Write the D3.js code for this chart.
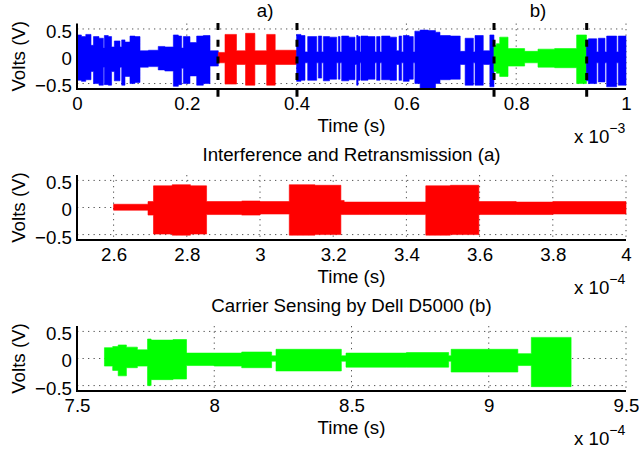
<!DOCTYPE html>
<html><head><meta charset="utf-8">
<script src="https://cdn.jsdelivr.net/npm/d3@7"></script>
<style>
body{margin:0;background:#fff}
svg{display:block}
text{font-family:"Liberation Sans",Arial,Helvetica,sans-serif;fill:#000}
</style>
</head><body>
<svg id="c" width="639" height="451"></svg>
<script>
// ---------- DATA (envelopes: [time, upper V, lower V], step segments) ----------
// Top panel, time in units of 1e-3 s
const topBlue1 = [
  [0.000,0.39,-0.44],[0.008,0.36,-0.46],[0.016,0.40,-0.43],[0.0255,0.20,-0.28],
  [0.030,0.36,-0.50],[0.040,0.33,-0.53],[0.048,0.15,-0.20],[0.0498,0.38,-0.52],
  [0.057,0.36,-0.53],[0.063,0.17,-0.28],[0.068,0.28,-0.45],[0.0783,0.17,-0.20],
  [0.0814,0.30,-0.53],[0.0874,0.26,-0.37],[0.0965,0.37,-0.50],[0.1056,0.36,-0.48],
  [0.1148,0.10,-0.20],[0.130,0.11,-0.19],[0.148,0.18,-0.25],[0.160,0.17,-0.27],
  [0.1755,0.39,-0.55],[0.1846,0.37,-0.52],[0.1906,0.15,-0.22],[0.1937,0.36,-0.50],
  [0.2058,0.25,-0.36],[0.218,0.37,-0.53],[0.2301,0.38,-0.50],[0.2423,0.10,-0.18],
  [0.2574,0.10,-0.18]
];
const topRed = [
  [0.2574,0.07,-0.12],[0.2696,0.40,-0.51],[0.2905,0.10,-0.15],[0.3070,0.42,-0.53],
  [0.3240,0.10,-0.15],[0.3455,0.40,-0.53],[0.3610,0.11,-0.15],[0.4000,0.11,-0.15]
];
const topBlue2 = [
  [0.4000,0.40,-0.46],[0.4080,0.38,-0.44],[0.4153,0.08,-0.12],[0.4202,0.36,-0.44],
  [0.4366,0.08,-0.12],[0.4396,0.37,-0.40],[0.4457,0.08,-0.12],[0.4487,0.36,-0.45],
  [0.4600,0.35,-0.42],[0.4730,0.08,-0.12],[0.4760,0.36,-0.42],[0.4791,0.08,-0.12],
  [0.4821,0.37,-0.45],[0.4950,0.35,-0.43],[0.5064,0.10,-0.15],[0.5094,0.38,-0.53],
  [0.5120,0.36,-0.44],[0.5155,0.08,-0.12],[0.5173,0.37,-0.44],[0.5300,0.36,-0.42],
  [0.5428,0.08,-0.12],[0.5458,0.36,-0.44],[0.5519,0.08,-0.12],[0.5549,0.37,-0.43],
  [0.5700,0.35,-0.44],[0.5820,0.10,-0.15],[0.5865,0.37,-0.44],[0.5913,0.08,-0.12],
  [0.5943,0.38,-0.46],[0.6050,0.36,-0.42],[0.6125,0.08,-0.12],[0.6154,0.46,-0.50],
  [0.6250,0.48,-0.60],[0.6400,0.47,-0.60],[0.6530,0.44,-0.50],[0.6612,0.38,-0.43],
  [0.6800,0.37,-0.42],[0.6980,0.09,-0.15],[0.7070,0.33,-0.53],[0.7220,0.08,-0.12],
  [0.7250,0.38,-0.53],[0.7400,0.10,-0.15],[0.7520,0.39,-0.56],[0.7595,0.39,-0.56]
];
const topGreen = [
  [0.7595,0.20,-0.28],[0.7640,0.23,-0.31],[0.7700,0.35,-0.37],[0.7851,0.14,-0.18],
  [0.8154,0.09,-0.12],[0.8397,0.13,-0.20],[0.8700,0.14,-0.21],[0.9101,0.39,-0.50],
  [0.9280,0.39,-0.50]
];
const topBlue3 = [
  [0.9280,0.30,-0.45],[0.9315,0.32,-0.50],[0.9466,0.08,-0.12],[0.9496,0.33,-0.47],
  [0.9617,0.08,-0.12],[0.9648,0.37,-0.56],[0.9830,0.08,-0.12],[0.9860,0.37,-0.53],
  [1.0000,0.37,-0.53]
];
// Middle panel, time in units of 1e-4 s
const midRed = [
  [2.600,0.06,-0.05],[2.694,0.11,-0.14],[2.709,0.40,-0.49],[2.760,0.42,-0.51],
  [2.810,0.40,-0.49],[2.854,0.11,-0.13],[2.950,0.12,-0.14],[3.000,0.11,-0.12],
  [3.080,0.42,-0.51],[3.150,0.41,-0.50],[3.221,0.13,-0.13],[3.230,0.10,-0.13],
  [3.300,0.10,-0.13],[3.453,0.40,-0.51],[3.520,0.41,-0.50],[3.598,0.11,-0.13],
  [3.700,0.10,-0.13],[3.800,0.11,-0.12],[4.000,0.11,-0.12]
];
// Bottom panel, time in units of 1e-4 s
const botGreen = [
  [7.600,0.20,-0.14],[7.630,0.22,-0.22],[7.650,0.25,-0.32],[7.680,0.21,-0.17],
  [7.720,0.16,-0.14],[7.757,0.36,-0.50],[7.770,0.34,-0.39],[7.850,0.35,-0.38],
  [7.899,0.10,-0.13],[8.000,0.10,-0.14],[8.100,0.12,-0.17],[8.209,0.05,-0.05],
  [8.225,0.17,-0.23],[8.463,0.05,-0.05],[8.480,0.10,-0.16],[8.700,0.11,-0.16],
  [8.854,0.05,-0.05],[8.863,0.17,-0.25],[9.106,0.09,-0.13],[9.155,0.39,-0.52],
  [9.300,0.39,-0.52]
];
const markers = [0.2568, 0.4007, 0.7596, 0.9284];
const markerLabels = [["a)", 0.3426], ["b)", 0.8397]];
const topTicks = [0, 0.2, 0.4, 0.6, 0.8, 1];
const topTickLabels = ["0","0.2","0.4","0.6","0.8","1"];
const midTicks = [2.6, 2.8, 3, 3.2, 3.4, 3.6, 3.8, 4];
const midTickLabels = ["2.6","2.8","3","3.2","3.4","3.6","3.8","4"];
const botTicks = [7.5, 8, 8.5, 9, 9.5];
const botTickLabels = ["7.5","8","8.5","9","9.5"];
const yTicks = [-0.5, 0, 0.5];
const yTickLabels = ["\u22120.5","0","0.5"];
const titles = [null, "Interference and Retransmission (a)", "Carrier Sensing by Dell D5000 (b)"];
const exponents = ["\u22123", "\u22124", "\u22124"];

// ---------- DRAW ----------
const svg = d3.select("#c");
const FS = 18.7;
const L = 77, R = 626;
const panels = [
  {xDomain:[0,1], ticks:topTicks, labels:topTickLabels, top:23.5, bottom:89,
   series:[[topBlue1,"#0000ff"],[topRed,"#ff0000"],[topBlue2,"#0000ff"],[topGreen,"#00ff00"],[topBlue3,"#0000ff"]],
   title:titles[0], exp:exponents[0], markers:true},
  {xDomain:[2.5,4], ticks:midTicks, labels:midTickLabels, top:175, bottom:240,
   series:[[midRed,"#ff0000"]], title:titles[1], exp:exponents[1]},
  {xDomain:[7.5,9.5], ticks:botTicks, labels:botTickLabels, top:326, bottom:391,
   series:[[botGreen,"#00ff00"]], title:titles[2], exp:exponents[2]}
];

panels.forEach(p => {
  const x = d3.scaleLinear().domain(p.xDomain).range([L, R]);
  const y = d3.scaleLinear().domain([-0.6, 0.6]).range([p.bottom, p.top]);
  const g = svg.append("g");

  // grid
  g.selectAll("line.vg").data(p.ticks.filter(t => t !== p.xDomain[0])).join("line")
    .attr("x1", d => x(d)).attr("x2", d => x(d)).attr("y1", p.top).attr("y2", p.bottom)
    .attr("stroke", "#555").attr("stroke-width", 1).attr("stroke-dasharray", "1.3,4.2");
  g.selectAll("line.hg").data(yTicks).join("line")
    .attr("x1", L).attr("x2", R).attr("y1", d => y(d)).attr("y2", d => y(d))
    .attr("stroke", "#555").attr("stroke-width", 1).attr("stroke-dasharray", "1.3,4.2");

  // signal envelopes
  const area = d3.area().x(d => x(d[0])).y0(d => y(d[2])).y1(d => y(d[1])).curve(d3.curveStepAfter);
  p.series.forEach(([data, color]) => {
    g.append("path").attr("d", area(data)).attr("fill", color)
      .attr("stroke", color).attr("stroke-width", 0.6);
  });

  // axes lines
  g.append("line").attr("x1", L).attr("x2", L).attr("y1", p.top).attr("y2", p.bottom + 1)
    .attr("stroke", "#000").attr("stroke-width", 2);
  g.append("line").attr("x1", L - 1).attr("x2", R).attr("y1", p.bottom).attr("y2", p.bottom)
    .attr("stroke", "#000").attr("stroke-width", 2);

  // markers
  if (p.markers) {
    g.selectAll("line.mk").data(markers).join("line")
      .attr("x1", d => x(d)).attr("x2", d => x(d)).attr("y1", 23).attr("y2", 98)
      .attr("stroke", "#000").attr("stroke-width", 3).attr("stroke-dasharray", "7,9.7");
    g.selectAll("text.mkl").data(markerLabels).join("text")
      .attr("x", d => x(d[1])).attr("y", 17).attr("text-anchor", "middle")
      .attr("font-size", FS).text(d => d[0]);
  }

  // x axis tick labels
  const xa = g.append("g").attr("transform", `translate(0,${p.bottom})`)
    .call(d3.axisBottom(x).tickValues(p.ticks).tickFormat((d, i) => p.labels[i]).tickSize(0).tickPadding(8.2));
  xa.select(".domain").remove();
  xa.selectAll("text").attr("font-size", FS).attr("fill", "#000");
  xa.attr("font-family", null).attr("font-size", null);

  // y axis tick labels
  const ya = g.append("g").attr("transform", `translate(${L},0)`)
    .call(d3.axisLeft(y).tickValues(yTicks).tickFormat((d, i) => yTickLabels[i]).tickSize(0).tickPadding(5));
  ya.select(".domain").remove();
  ya.selectAll("text").attr("font-size", FS).attr("dy", "0.45em").attr("fill", "#000");
  ya.attr("font-family", null).attr("font-size", null);

  // labels
  g.append("text").attr("x", (L + R) / 2).attr("y", p.bottom + 42.5)
    .attr("text-anchor", "middle").attr("font-size", FS).text("Time (s)");
  const ex = g.append("text").attr("x", 574).attr("y", p.bottom + 53.5).attr("font-size", FS);
  ex.append("tspan").text("x 10");
  ex.append("tspan").attr("dy", -10).attr("font-size", 14).text(p.exp);
  g.append("text").attr("transform", `translate(25,${(p.top + p.bottom) / 2}) rotate(-90)`)
    .attr("text-anchor", "middle").attr("font-size", FS).text("Volts (V)");
  if (p.title) {
    g.append("text").attr("x", (L + R) / 2).attr("y", p.top - 14)
      .attr("text-anchor", "middle").attr("font-size", FS).text(p.title);
  }
});
</script>
</body></html>
